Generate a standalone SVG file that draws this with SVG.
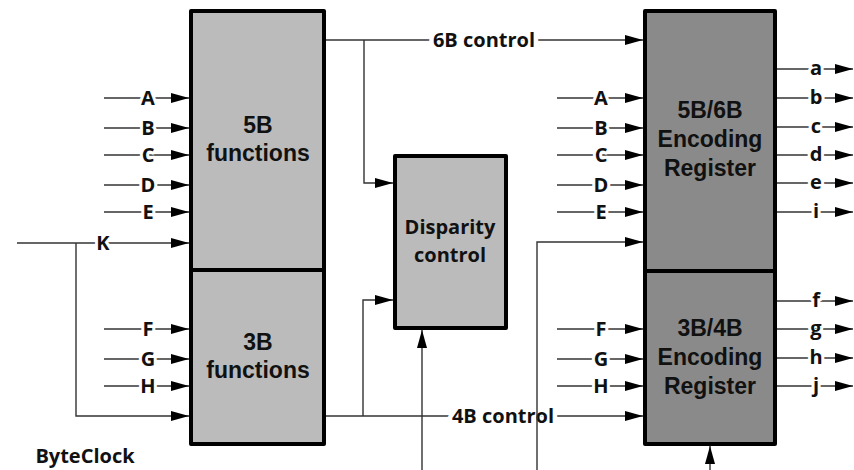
<svg xmlns="http://www.w3.org/2000/svg" width="854" height="470" viewBox="0 0 854 470">
<defs>
<marker id="arr" markerUnits="userSpaceOnUse" markerWidth="18" markerHeight="12" refX="18" refY="6" orient="auto" viewBox="0 0 18 12">
<path d="M0,1 L18,6 L0,11 Z" fill="#000"/>
</marker>
<style>
.blk{stroke:#000;stroke-width:4;stroke-linejoin:round}
.lt{fill:#bbbbbb}
.dk{fill:#8a8a8a}
.w{fill:none;stroke:#333;stroke-width:1.4}
.a{marker-end:url(#arr)}
.big{font-family:"Liberation Sans",Arial,sans-serif;font-weight:bold;font-size:23px;fill:#111;text-anchor:middle}
.lab{font-family:"Open Sans","DejaVu Sans",sans-serif;font-weight:bold;font-size:20px;fill:#111;text-anchor:middle}
.sig{font-family:"Open Sans","DejaVu Sans",sans-serif;font-weight:bold;font-size:20px;fill:#111;text-anchor:middle;stroke:#fff;stroke-width:6;paint-order:stroke;stroke-linejoin:round}
.ctl{stroke-width:9}
</style>
</defs>
<rect width="854" height="470" fill="#fff"/>

<g id="connectors">
<!-- left inputs -->
<path class="w a" d="M104,98H189"/>
<path class="w a" d="M104,128H189"/>
<path class="w a" d="M104,155H189"/>
<path class="w a" d="M104,185H189"/>
<path class="w a" d="M104,212H189"/>
<path class="w a" d="M17,243H189"/>
<path class="w a" d="M76,243V416H189"/>
<path class="w a" d="M104,329H189"/>
<path class="w a" d="M104,359H189"/>
<path class="w a" d="M104,386H189"/>
<!-- 6B control -->
<path class="w a" d="M326,40H643"/>
<path class="w a" d="M364,40V183H393"/>
<!-- 4B control -->
<path class="w a" d="M326,416H643"/>
<path class="w a" d="M363,416V300H393"/>
<!-- right inputs -->
<path class="w a" d="M557,98H643"/>
<path class="w a" d="M557,128H643"/>
<path class="w a" d="M557,155H643"/>
<path class="w a" d="M557,185H643"/>
<path class="w a" d="M557,212H643"/>
<path class="w a" d="M557,329H643"/>
<path class="w a" d="M557,359H643"/>
<path class="w a" d="M557,386H643"/>
<!-- outputs -->
<path class="w a" d="M777,69H853"/>
<path class="w a" d="M777,98H853"/>
<path class="w a" d="M777,127H853"/>
<path class="w a" d="M777,155H853"/>
<path class="w a" d="M777,183H853"/>
<path class="w a" d="M777,212H853"/>
<path class="w a" d="M777,301H853"/>
<path class="w a" d="M777,329H853"/>
<path class="w a" d="M777,358H853"/>
<path class="w a" d="M777,386H853"/>
<!-- labels on wires -->
<text class="sig" x="148" y="105">A</text>
<text class="sig" x="148" y="135">B</text>
<text class="sig" x="148" y="162">C</text>
<text class="sig" x="148" y="192">D</text>
<text class="sig" x="148" y="219">E</text>
<text class="sig" x="103" y="250">K</text>
<text class="sig" x="148" y="336">F</text>
<text class="sig" x="148" y="366">G</text>
<text class="sig" x="148" y="393">H</text>
<text class="sig" x="601" y="105">A</text>
<text class="sig" x="601" y="135">B</text>
<text class="sig" x="601" y="162">C</text>
<text class="sig" x="601" y="192">D</text>
<text class="sig" x="601" y="219">E</text>
<text class="sig" x="601" y="336">F</text>
<text class="sig" x="601" y="366">G</text>
<text class="sig" x="601" y="393">H</text>
<text class="sig" x="816" y="75">a</text>
<text class="sig" x="816" y="104">b</text>
<text class="sig" x="816" y="133">c</text>
<text class="sig" x="816" y="161">d</text>
<text class="sig" x="816" y="189">e</text>
<text class="sig" x="816" y="218">i</text>
<text class="sig" x="816" y="307">f</text>
<text class="sig" x="816" y="335">g</text>
<text class="sig" x="816" y="364">h</text>
<text class="sig" x="816" y="392">j</text>
<text class="sig ctl" x="484" y="47">6B control</text>
<text class="sig ctl" x="503" y="423">4B control</text>
<!-- vertical feeds from below -->
<path class="w a" d="M422,470V330"/>
<path class="w a" d="M537,470V242H643"/>
<path class="w a" d="M710,470V446"/>
</g>

<g id="block-5b">
<rect class="blk lt" x="191" y="11" width="133" height="259"/>
<text class="big" x="258" y="133">5B</text>
<text class="big" x="258" y="161">functions</text>
</g>
<g id="block-3b">
<rect class="blk lt" x="191" y="270" width="133" height="174"/>
<text class="big" x="258" y="350">3B</text>
<text class="big" x="258" y="378">functions</text>
</g>
<g id="disparity">
<rect class="blk lt" x="395" y="156" width="111" height="172"/>
<text class="lab" x="450" y="234">Disparity</text>
<text class="lab" x="450" y="262">control</text>
</g>
<g id="enc-5b6b">
<rect class="blk dk" x="645" y="11" width="130" height="260"/>
<text class="big" x="710" y="118">5B/6B</text>
<text class="big" x="710" y="147">Encoding</text>
<text class="big" x="710" y="176">Register</text>
</g>
<g id="enc-3b4b">
<rect class="blk dk" x="645" y="271" width="130" height="173"/>
<text class="big" x="710" y="336">3B/4B</text>
<text class="big" x="710" y="365">Encoding</text>
<text class="big" x="710" y="394">Register</text>
</g>
<g id="byteclock">
<text class="lab" x="85" y="463">ByteClock</text>
</g>
</svg>
